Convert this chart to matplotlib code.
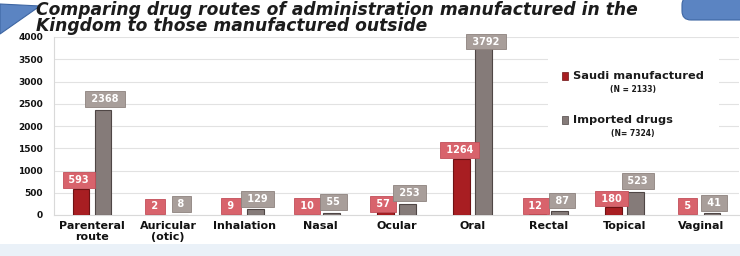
import numpy as np
import matplotlib
matplotlib.use('Agg')
import matplotlib.pyplot as plt
from matplotlib.patches import Polygon, FancyBboxPatch, Rectangle
from matplotlib.transforms import IdentityTransform

# ── data ──────────────────────────────────────────────────────────────────────
routes = ['Parenteral\nroute', 'Auricular\n(otic)', 'Inhalation', 'Nasal',
          'Ocular', 'Oral', 'Rectal', 'Topical', 'Vaginal']
saudi = [593, 2, 9, 10, 57, 1264, 12, 180, 5]
imported = [2368, 8, 129, 55, 253, 3792, 87, 523, 41]
yticks = [0, 500, 1000, 1500, 2000, 2500, 3000, 3500, 4000]

title = ('Comparing drug routes of administration manufactured in the\n'
         'Kingdom to those manufactured outside')
legend_saudi = ('Saudi manufactured', '(N = 2133)')
legend_imp = ('Imported drugs', '(N= 7324)')

# ── colours ───────────────────────────────────────────────────────────────────
RED = '#a81e22'
RED_EDGE = '#6e1214'
RED_LBL = '#d8636c'
GREY = '#857b79'
GREY_EDGE = '#4f4645'
GREY_LBL = '#a89e9a'
BLUE = '#5b84c2'

W, H = 740, 256
fig = plt.figure(figsize=(W / 100, H / 100), dpi=100)
fig.patch.set_facecolor('white')

# light blue band at bottom of slide
fig.patches.append(Rectangle((0, 0), 1, 12 / H, transform=fig.transFigure,
                             facecolor='#eaf1f8', edgecolor='none', zorder=0))
# decorative shapes (pixel coords, origin bottom-left)
fig.patches.append(Polygon([(0, H - 4), (40, H - 6), (0, H - 34)], closed=True,
                           transform=IdentityTransform(),
                           facecolor=BLUE, edgecolor='#3e66a3', lw=0.8))
fig.patches.append(FancyBboxPatch((682, H - 20), 80, 24,
                                  boxstyle='round,pad=0,rounding_size=9',
                                  transform=IdentityTransform(),
                                  facecolor=BLUE, edgecolor='#3e66a3', lw=0.8))

fig.text(36 / W, 1 - 18 / H, title, ha='left', va='center', fontsize=12.3,
         fontweight='bold', fontstyle='italic', color='#1c1c1c',
         linespacing=0.85)

ax = fig.add_axes([54 / W, 41 / H, 685 / W, 178 / H])
ax.set_facecolor('white')

x = np.arange(len(routes))
bw = 0.22
off = 0.145
ax.bar(x - off, saudi, bw, color=RED, edgecolor=RED_EDGE, lw=0.8, zorder=3)
ax.bar(x + off, imported, bw, color=GREY, edgecolor=GREY_EDGE, lw=0.8, zorder=3)

top_lbl = 3660  # labels near the top are kept inside the plot
for xi, v in zip(x, saudi):
    ax.annotate(f' {v} ', xy=(xi - off, min(v, top_lbl)), xytext=(-1.5, 2.5),
                textcoords='offset points', ha='center', va='bottom',
                fontsize=7, fontweight='bold', color='white', zorder=5,
                bbox=dict(boxstyle='square,pad=0.3', facecolor=RED_LBL,
                          edgecolor='#c24f59', lw=0.6))
for xi, v in zip(x, imported):
    ax.annotate(f' {v} ', xy=(xi + off, min(v, top_lbl)), xytext=(1.5, 4),
                textcoords='offset points', ha='center', va='bottom',
                fontsize=7, fontweight='bold', color='white', zorder=6,
                bbox=dict(boxstyle='square,pad=0.3', facecolor=GREY_LBL,
                          edgecolor='#8d827e', lw=0.6))

ax.set_xlim(-0.5, len(routes) - 0.5)
ax.set_ylim(0, 4000)
ax.set_yticks(yticks)
ax.set_yticklabels([str(t) for t in yticks], fontsize=6.5, fontweight='bold',
                   color='#111111')
ax.set_xticks(x)
ax.set_xticklabels(routes, fontsize=8, fontweight='bold', color='#111111',
                   linespacing=1.15)
ax.tick_params(axis='y', length=0, pad=8)
ax.tick_params(axis='x', length=0, pad=4)
ax.grid(axis='y', color='#e2e2e2', lw=0.8, zorder=0)
ax.set_axisbelow(True)
for s in ax.spines.values():
    s.set_color('#d9d9d9')
    s.set_linewidth(0.8)
ax.spines['right'].set_visible(False)
ax.spines['top'].set_visible(False)

# legend (manual, on a white patch that hides the gridlines)
ax.add_patch(Rectangle((0.721, 0.42), 0.25, 0.47, transform=ax.transAxes,
                       facecolor='white', edgecolor='none', zorder=2))
for (lbl, n), col, ec, yy in [(legend_saudi, RED, RED_EDGE, 0.781),
                              (legend_imp, GREY, GREY_EDGE, 0.534)]:
    ax.add_patch(Rectangle((0.742, yy - 0.02), 0.009, 0.04, transform=ax.transAxes,
                           facecolor=col, edgecolor=ec, lw=0.5, zorder=4))
    ax.text(0.757, yy, lbl, transform=ax.transAxes, ha='left', va='center',
            fontsize=8.2, fontweight='bold', color='#1a1a1a', zorder=4)
    ax.text(0.845, yy - 0.075, n, transform=ax.transAxes, ha='center', va='center',
            fontsize=5.5, fontweight='bold', color='#1a1a1a', zorder=4)

fig.savefig('out.png', dpi=100, facecolor=fig.get_facecolor())
